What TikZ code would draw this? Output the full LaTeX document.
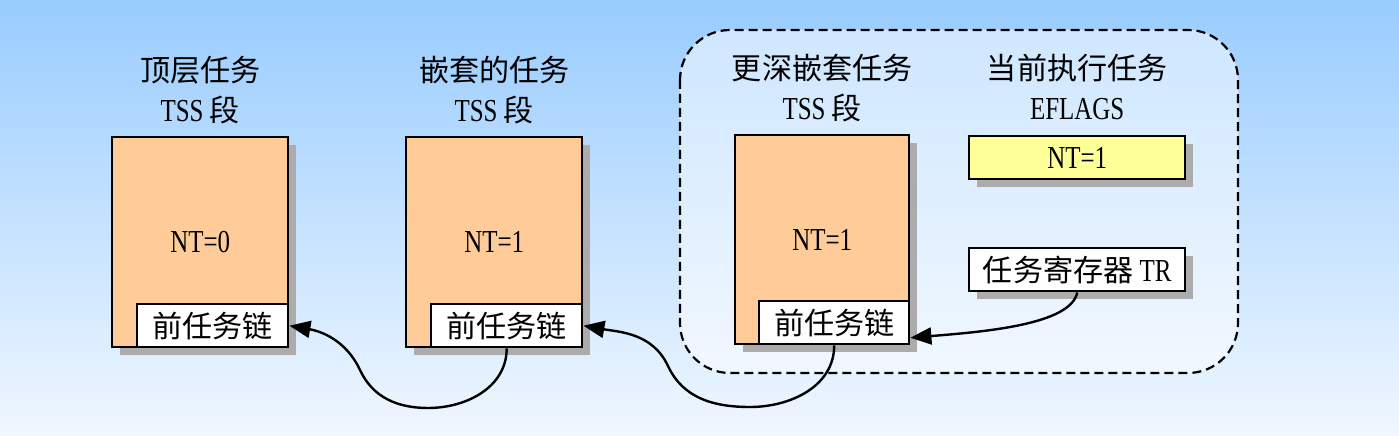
\documentclass[tikz,border=0pt]{standalone}
\usepackage{fontspec}
\setmainfont[FakeStretch=0.78]{Liberation Serif}
\newfontfamily\cjk[Scale=0.94]{Noto Sans CJK SC}
\usetikzlibrary{positioning,shadows,arrows.meta}

\definecolor{skytop}{RGB}{153,204,255}
\definecolor{skybot}{RGB}{240,247,255}
\definecolor{segfill}{RGB}{255,204,153}
\definecolor{flagfill}{RGB}{255,255,153}

\tikzset{
    boxshadow/.style={drop shadow={shadow xshift=8pt, shadow yshift=-8pt, fill=gray!65, opacity=1}},
    seg/.style={draw, line width=2.4pt, fill=segfill, minimum width=176pt, minimum height=210pt, anchor=north west, inner sep=0pt, boxshadow},
    chain/.style={draw, line width=2.4pt, fill=white, minimum width=151pt, minimum height=43pt, anchor=south east, inner sep=0pt},
    reg/.style={draw, line width=2.4pt, minimum width=216pt, minimum height=43pt, anchor=north west, inner sep=0pt, boxshadow},
    title/.style={align=center, inner sep=0pt},
    link/.style={line width=2.4pt, -{Triangle[length=21pt, width=17pt]}}
}

\begin{document}
\begin{tikzpicture}[x=1pt, y=1pt, font=\fontsize{32}{40}\selectfont]
        \shade[top color=skytop, bottom color=skybot] (0, 0) rectangle (1399, 436);
        \useasboundingbox (0, 0) rectangle (1399, 436);

        % frame round the current task
        \draw[line width=2.2pt, dash pattern=on 9pt off 5pt, rounded corners=50pt, fill=white, fill opacity=0.5] (680, 406) rectangle (1238, 63);

        \node[seg] (seg1) at (111, 300) {NT=0};
        \node[chain] (chain1) at (seg1.south east) {\cjk 前任务链};
        \node[title, above=12pt of seg1] (title1) {{\cjk 顶层任务}\\TSS {\cjk 段}};

        \node[seg] (seg2) at (405, 300) {NT=1};
        \node[chain] (chain2) at (seg2.south east) {\cjk 前任务链};
        \node[title, above=12pt of seg2] (title2) {{\cjk 嵌套的任务}\\TSS {\cjk 段}};

        \node[seg, minimum width=174pt, minimum height=209pt] (seg3) at (734, 302) {NT=1};
        \node[chain, minimum width=150pt] (chain3) at (seg3.south east) {\cjk 前任务链};
        \node[title, above=12pt of seg3] (title3) {{\cjk 更深嵌套任务}\\TSS {\cjk 段}};

        \node[reg, fill=flagfill] (flags) at (968, 301) {NT=1};
        \node[title, above=15pt of flags] (title4) {{\cjk 当前执行任务}\\EFLAGS};
        \node[reg, fill=white] (tr) at (968, 189) {{\cjk 任务寄存器} TR};

        \draw[link] (tr.south) .. controls +(-6, -32) and +(75, 6) .. ([yshift=-15pt]chain3.east);
        \draw[link] (chain3.south) to[out=-90, in=0] (750, 29) to[out=180, in=-65] (668, 70) to[out=115, in=-10] (chain2.east);
        \draw[link] (chain2.south) to[out=-90, in=0] (428, 28) to[out=180, in=-65] (360, 66) to[out=115, in=-10] (chain1.east);
    \end{tikzpicture}
\end{document}
